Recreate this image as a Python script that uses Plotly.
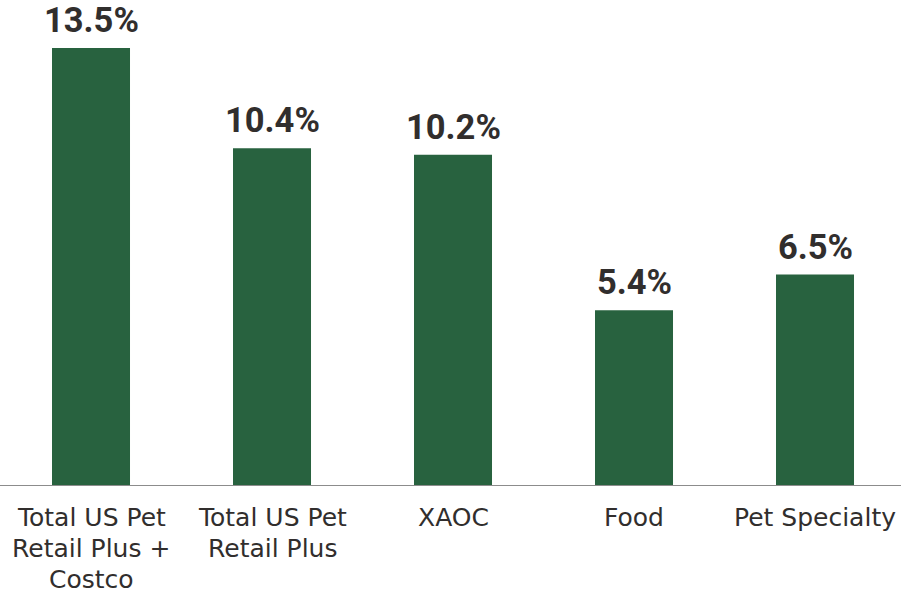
import plotly.graph_objects as go

categories = ["Total US Pet<br>Retail Plus +<br>Costco", "Total US Pet<br>Retail Plus", "XAOC", "Food", "Pet Specialty"]
values = [13.5, 10.4, 10.2, 5.4, 6.5]
value_labels = ["13.5%", "10.4%", "10.2%", "5.4%", "6.5%"]

BAR_COLOR = "#28623F"
TEXT_COLOR = "#312E2D"
LABEL_FONT = "Roboto"
AXIS_FONT = "DejaVu Sans"
AXIS_SIZE = 25
LINE_STEP = 31      # px between category label lines
FIRST_LINE_TOP = 17 # px below the baseline axis

x_idx = list(range(len(categories)))

fig = go.Figure(
    go.Bar(
        x=x_idx,
        y=values,
        width=0.431,
        marker=dict(color=BAR_COLOR, line=dict(width=0)),
        hoverinfo="skip",
    )
)

# value labels above each bar
for i, (v, lab) in enumerate(zip(values, value_labels)):
    fig.add_annotation(
        x=i, y=v, text=f"<b>{lab}</b>", showarrow=False,
        yanchor="bottom", yshift=6,
        font=dict(family=LABEL_FONT, size=34.5, color=TEXT_COLOR),
    )

# category labels under the axis, one annotation per line
for i, cat in enumerate(categories):
    for j, line in enumerate(cat.split("<br>")):
        fig.add_annotation(
            x=i, xref="x", y=0, yref="paper", text=line, showarrow=False,
            xanchor="center", yanchor="top", borderpad=0,
            yshift=-(FIRST_LINE_TOP + j * LINE_STEP),
            font=dict(family=AXIS_FONT, size=AXIS_SIZE, color=TEXT_COLOR),
        )

fig.update_layout(
    width=901, height=594,
    margin=dict(l=0, r=0, t=0, b=109),
    paper_bgcolor="white", plot_bgcolor="white",
    showlegend=False,
    xaxis=dict(
        range=[-0.5028, 4.4751],
        tickmode="array", tickvals=x_idx, showticklabels=False,
        showline=True, linecolor="#8C8C8C", linewidth=1,
        showgrid=False, zeroline=False, ticks="",
        automargin=False,
    ),
    yaxis=dict(
        range=[0, 14.98], visible=False, showgrid=False, zeroline=False,
        automargin=False,
    ),
)

fig.write_html("out.html")
